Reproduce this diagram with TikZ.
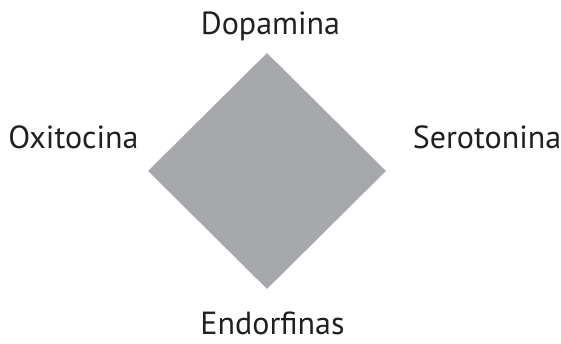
\documentclass[tikz,border=0pt]{standalone}
\usepackage{fontspec}
\setmainfont{PT Sans}
\usepackage{xcolor}
\usepackage{tikz}
\usetikzlibrary{shapes.geometric, positioning}

\definecolor{hormonegray}{HTML}{A7A8AB}
\definecolor{labelblack}{HTML}{231F20}

\begin{document}
\begin{tikzpicture}[x=1pt,y=1pt,
        core/.style={diamond,fill=hormonegray,draw=none,inner sep=0pt,
          minimum width=238pt,minimum height=236pt},
        hormone/.style={anchor=base,inner sep=0pt,text=labelblack,
          font=\fontsize{32}{38}\selectfont}]
    \useasboundingbox (0,0) rectangle (561,343);

      \node[core]    (center)            at (267,172) {};

      \node[hormone] (dopamina)   at (270.5,308) {Dopamina};
      \node[hormone] (oxitocina)  at (73.5,194)  {Oxitocina};
      \node[hormone] (serotonina) at (487,194)   {Serotonina};
      \node[hormone] (endorfinas) at (272.5,9)   {Endorfinas};
    \end{tikzpicture}
\end{document}
